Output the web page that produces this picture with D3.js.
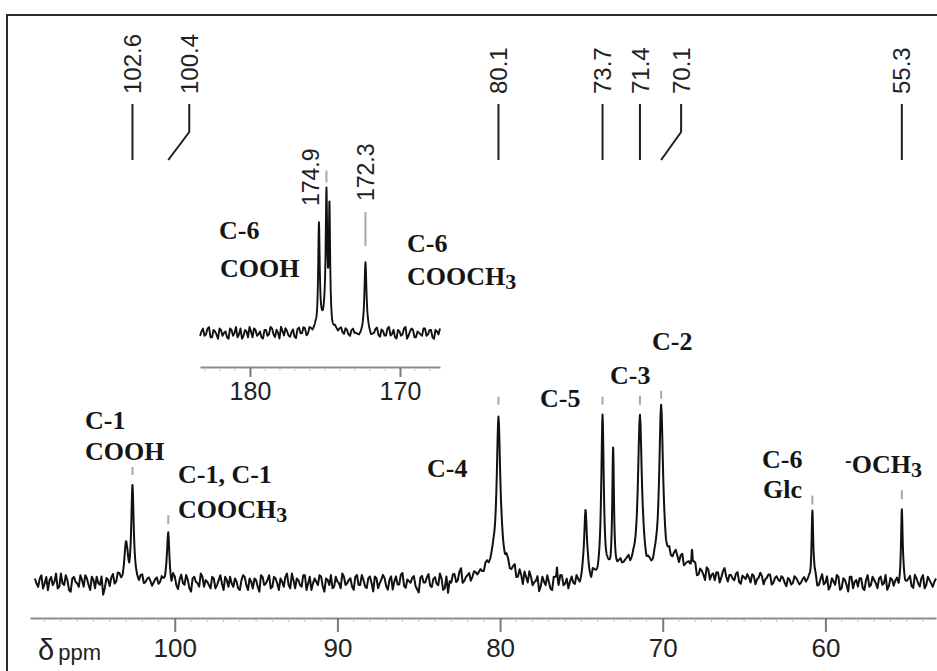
<!DOCTYPE html>
<html>
<head>
<meta charset="utf-8">
<script src="https://cdn.jsdelivr.net/npm/d3@7"></script>
<style>
  html, body { margin: 0; padding: 0; background: #fff; }
  svg { display: block; }
</style>
</head>
<body>
<svg id="chart" width="937" height="671"></svg>
<script>
// 13C NMR spectrum (108.6–53.2 ppm) with the carbonyl region (183–167 ppm) as an inset.

// ---- main spectrum: resolved signals (position ppm, height, width at half height ppm)
const mainPeakPpm    = [103.0, 102.6, 100.4, 80.1, 80.1, 76.5, 74.75, 73.7, 73.05, 72.3, 71.4, 70.1, 69.2, 68.2, 60.8, 55.3];
const mainPeakHeight = [21,    55,    27,    88,   12,   10,   41,    96,   72,    9,    95,   100,  12,   14,   44,   41];
const mainPeakWidth  = [0.24,  0.18,  0.18,  0.26, 2.0,  0.08, 0.20,  0.18, 0.12,  1.6,  0.28, 0.28, 1.8,  0.08, 0.12, 0.12];

// baseline noise of the main trace: samples every 0.2 ppm from 108.6 ppm,
// plus the samples lying halfway between them
const mainNoiseStart = 108.6;
const mainNoiseStep = 0.2;
const mainNoise = [
   2,-3, 4,-1,-5, 3, 0,-4, 5,-2, 1,-6, 3,-1, 4,-3, 2,-5, 1, 3,
  -2,-8, 2,-3, 4,-1, 3,-2, 1,-3, 2, 0,-2, 3,-1, 2,-3, 1,-2, 2,
  -1, 3,-4, 2,-5, 4,-2, 1,-6, 3,-1, 5,-3, 0,-4, 2,-2, 4,-5, 1,
   3,-3, 0,-5, 4,-2, 2,-4, 1,-6, 3,-1, 4,-3, 2,-5, 0, 3,-2, 5,
  -4, 1,-3, 4,-1,-5, 2,-2, 3,-6, 1, 4,-3, 0,-4, 3,-1, 2,-5, 4,
  -2, 1,-4, 3,-6, 2,-1, 4,-3, 1,-5, 3,-2, 5,-4, 0, 2,-3,-7, 3,
  -1, 4,-4, 2,-3, 1,-5,-8,-2, 3,-1, 6,-2, 1,-3, 2,-1, 1,-2, 2,
  -1, 2,-2, 1,-1, 2,-3, 1,-4, 2,-6,-1, 3,-5,-2,-8, 1,-4,-2,-7,
   0,-5, 2,-3,-6, 1,-4,-2,-3,-1, 2,-4, 1,-2, 2,-1, 1,-2, 1,-1,
   2,-1, 1,-2, 1, 0,-1, 2,-2, 1,-1, 2,-1, 1,-2, 3,-1, 4,-2, 5,
   1, 4,-1, 6, 0, 3,-2, 5, 2,-1, 4, 1, 7,-1, 3, 0, 5,-2, 2, 4,
  -1, 3, 1, 5,-2, 2, 4,-1, 3, 0, 2,-3, 1,-1, 2,-2, 1,-1, 1,-1,
   2,-3, 4,-1,-5, 2,-2, 3,-4, 1,-6, 3, 0,-3, 2,-5, 4,-2, 1,-4,
   3,-1,-5, 2,-3, 1,-2, 2,-1, 3,-4, 2,-3, 4,-2, 1,-3, 2
];
const mainNoiseMid = [
  -1, 2,-4, 3, 1,-2, 5,-3,-1, 4,-5, 2, 0,-3, 1, 4,-2, 3,-4,-1,
   3,-4, 1, 2,-2, 4,-1, 0, 2,-1, 1,-1, 2,-2, 1, 0,-1, 2,-1, 0,
   2,-2, 3,-3, 1,-1, 4,-4, 2, 0,-3, 3, 1,-2, 3,-4, 1,-1, 3,-3,
  -1, 2,-4, 1, 3,-5, 0, 2,-3, 4,-2, 1,-4, 3,-1, 2,-3, 5,-4, 1,
   2,-2, 4,-5, 3,-1, 0, 4,-3, 2,-2,-4, 3,-1, 5,-2, 1,-3, 3,-2,
   4,-3, 2,-1, 3,-4, 1, 2,-5, 3, 0,-2, 4,-3, 1,-1, 3,-5, 2,-1,
   2,-3, 1,-2, 4,-6, 2,-1, 3,-2, 4,-3, 0, 2,-1, 1, 0,-1, 2,-1,
   1,-1, 0, 2,-2, 1,-2, 3,-3,-1, 2,-4, 0,-3, 1,-5,-2, 2,-6, 1,
  -3, 2,-4, 0,-2,-3, 1,-5, 0, 1,-2, 2,-1, 0, 1,-1, 0, 1,-1, 1,
  -1, 0, 2,-1, 0, 1,-1, 0, 1,-1, 2, 0,-1, 1, 0,-1, 2, 1, 3,-1,
   3, 2, 5,-1, 4, 1, 6,-1, 3, 4,-2, 5, 2, 3, 1, 4,-1, 3, 1, 2,
   4,-2, 2, 3, 1, 4,-2, 2, 1, 3,-1, 2,-2, 3, 0,-1, 2, 0,-2, 2,
  -4, 1,-2, 3,-3, 0, 4,-5, 2,-2, 3,-4, 1, 2,-4, 1,-3, 3,-1, 2,
  -2, 4,-3, 1, 0,-4, 3,-2, 1,-3, 4,-1, 2,-4, 3,-1, 0
];

// ---- inset: carbonyl signals
const insetPeakPpm    = [175.4, 174.9, 174.7, 175.0, 172.3];
const insetPeakHeight = [70,    87,    76,    8,     48];
const insetPeakWidth  = [0.12,  0.12,  0.10,  0.8,   0.16];

// baseline noise of the inset trace: samples every 0.2 ppm from 183.33 ppm, plus midpoints
const insetNoiseStart = 183.33;
const insetNoiseStep = 0.2;
const insetNoise = [
  -2, 3,-1, 4,-3, 1,-4, 2, 0,-3, 3,-2, 4,-1,-4, 2,-3, 1, 3,-2,
   1,-4, 2,-1, 3,-3, 0, 4,-2, 1,-3, 2,-4, 3,-1, 2,-2, 1, 0,-1,
   1,-1, 0, 1,-2, 1,-1, 2,-2, 1,-3, 2,-1,-3,-1, 0, 1,-3,-1, 3,
  -3, 1,-2, 4,-1,-3, 2,-2, 3,-4, 1, 2,-3, 0,-2, 3,-1, 2,-4, 1,
   3
];
const insetNoiseMid = [
   1,-2, 3,-3, 2,-1, 3,-2, 1,-4, 2, 0,-3, 3,-2, 1, 4,-3, 2,-1,
  -3, 2,-2, 4,-1, 2,-4, 1, 3,-2, 0,-3, 2,-1, 3,-3, 2,-1, 1, 0,
   0, 1,-1, 2,-1, 0, 1,-1, 2,-2, 1,-1,-2,-2, 0, 1,-1,-2, 2,-2,
   2,-2, 3,-2, 2,-4, 1,-1, 4,-2, 3,-3, 1,-1, 3,-2, 2,-3, 2,-1
];

// ---- axes and annotations
const mainTicks = [100, 90, 80, 70, 60];
const insetTicks = [180, 170];
const shiftLabels = [102.6, 100.4, 80.1, 73.7, 71.4, 70.1, 55.3];
const insetShiftLabels = [174.9, 172.3];

const svg = d3.select("#chart");
svg.append("rect").attr("width", 937).attr("height", 671).attr("fill", "#fff");

// outer frame
svg.append("rect")
  .attr("x", 7).attr("y", 15).attr("width", 960).attr("height", 700)
  .attr("fill", "none").attr("stroke", "#2b2b2b").attr("stroke-width", 2);

const x = d3.scaleLinear().domain([108.9, 53.2]).range([30, 936]);
const y = d3.scaleLinear().domain([0, 100]).range([582, 417]);
const xi = d3.scaleLinear().domain([183.33, 167.33]).range([200, 440]);
const yi = d3.scaleLinear().domain([0, 100]).range([333, 187]);

// merge the sample grid and its midpoints into one sequence at half the step
function interleave(samples, mids) {
  const out = [];
  samples.forEach((v, i) => { out.push(v); if (i < mids.length) out.push(mids[i]); });
  return out;
}

// Lorentzian signals on top of the recorded baseline noise
function makeTrace(ppms, heights, widths, noise, start, step) {
  const peaks = ppms.map((p, i) => ({ p, h: heights[i], hw: widths[i] / 2 }));
  const end = start - (noise.length - 1) * step;
  const noiseAt = v => {
    const f = (start - v) / step;
    const i0 = Math.max(0, Math.min(noise.length - 2, Math.floor(f)));
    const t = f - i0;
    return noise[i0] * (1 - t) + noise[i0 + 1] * t;
  };
  const value = v => noiseAt(v) + d3.sum(peaks, k => k.h / (1 + ((v - k.p) / k.hw) ** 2));
  let xs = noise.map((_, i) => start - i * step);
  peaks.forEach(k => {
    if (k.hw < 0.25) {
      for (let d = -8 * k.hw; d <= 8 * k.hw + 1e-9; d += k.hw / 4) xs.push(k.p + d);
    }
    xs.push(k.p);
  });
  xs = xs.filter(v => v <= start && v >= end).sort((a, b) => b - a);
  xs = xs.filter((v, i) => i === 0 || Math.abs(v - xs[i - 1]) > 1e-6);
  return { points: xs.map(v => [v, value(v)]), value };
}

const main = makeTrace(mainPeakPpm, mainPeakHeight, mainPeakWidth,
  interleave(mainNoise, mainNoiseMid), mainNoiseStart, mainNoiseStep / 2);
const inset = makeTrace(insetPeakPpm, insetPeakHeight, insetPeakWidth,
  interleave(insetNoise, insetNoiseMid), insetNoiseStart, insetNoiseStep / 2);

svg.append("path")
  .attr("d", d3.line().x(d => x(d[0])).y(d => y(d[1]))(main.points))
  .attr("fill", "none").attr("stroke", "#111").attr("stroke-width", 2)
  .attr("stroke-linejoin", "round");

svg.append("path")
  .attr("d", d3.line().x(d => xi(d[0])).y(d => yi(d[1]))(inset.points))
  .attr("fill", "none").attr("stroke", "#111").attr("stroke-width", 1.9)
  .attr("stroke-linejoin", "round");

// peak-pick marks above the signals: [ppm, gap above top, length]
const mainMarks = [[102.6, 10, 8], [100.4, 8, 9], [80.1, 12, 8], [73.7, 10, 8], [71.4, 10, 9], [70.1, 6, 8], [60.8, 6, 9], [55.3, 10, 9]];
mainMarks.forEach(([p, gap, len]) => {
  const top = y(main.value(p));
  svg.append("line")
    .attr("x1", x(p)).attr("x2", x(p))
    .attr("y1", top - gap - len).attr("y2", top - gap)
    .attr("stroke", "#a8a8a8").attr("stroke-width", 2);
});
const insetMarks = [[174.9, 5, 12], [172.3, 16, 34]];
insetMarks.forEach(([p, gap, len]) => {
  const top = yi(inset.value(p));
  svg.append("line")
    .attr("x1", xi(p)).attr("x2", xi(p))
    .attr("y1", top - gap - len).attr("y2", top - gap)
    .attr("stroke", "#a8a8a8").attr("stroke-width", 2);
});

// main axis
const axisMain = svg.append("g").attr("transform", "translate(0,618)")
  .call(d3.axisBottom(x).tickValues(mainTicks).tickSize(14).tickSizeOuter(0).tickPadding(7).tickFormat(d3.format("d")));
axisMain.select(".domain").attr("stroke", "#8c8c8c").attr("stroke-width", 2);
axisMain.selectAll(".tick line").attr("stroke", "#7a7a7a").attr("stroke-width", 2);
axisMain.selectAll(".tick text")
  .attr("font-family", "'Liberation Sans', Arial, sans-serif").attr("font-size", 26).attr("fill", "#222");
svg.append("g").selectAll("line")
  .data(d3.range(54, 109).filter(v => !mainTicks.includes(v)))
  .join("line")
  .attr("x1", d => x(d)).attr("x2", d => x(d)).attr("y1", 619).attr("y2", 622)
  .attr("stroke", "#c4c4c4").attr("stroke-width", 1);

const unit = svg.append("text").attr("x", 38).attr("y", 660)
  .attr("font-family", "'Liberation Sans', Arial, sans-serif").attr("fill", "#222");
unit.append("tspan").attr("font-size", 29).text("δ");
unit.append("tspan").attr("font-size", 22).attr("dx", 4).text("ppm");

// inset axis
const axisInset = svg.append("g").attr("transform", "translate(0,367)")
  .call(d3.axisBottom(xi).tickValues(insetTicks).tickSize(10).tickSizeOuter(0).tickPadding(5).tickFormat(d3.format("d")));
axisInset.select(".domain").attr("stroke", "#8c8c8c").attr("stroke-width", 2);
axisInset.selectAll(".tick line").attr("stroke", "#7a7a7a").attr("stroke-width", 2);
axisInset.selectAll(".tick text")
  .attr("font-family", "'Liberation Sans', Arial, sans-serif").attr("font-size", 25).attr("fill", "#222");
svg.append("g").selectAll("line")
  .data(d3.range(168, 184).filter(v => !insetTicks.includes(v)))
  .join("line")
  .attr("x1", d => xi(d)).attr("x2", d => xi(d)).attr("y1", 368).attr("y2", 371)
  .attr("stroke", "#c4c4c4").attr("stroke-width", 1);

// chemical-shift labels with leader lines
const labelFont = "'Liberation Sans', Arial, sans-serif";
const leaderOffset = { 100.4: 21, 70.1: 20 };
shiftLabels.forEach(p => {
  const xb = x(p);
  const dx = leaderOffset[p] || 0;
  const xt = xb + dx;
  const path = dx ? `M${xt},104V132L${xb},160` : `M${xt},104V160`;
  svg.append("path").attr("d", path).attr("fill", "none").attr("stroke", "#1e1e1e").attr("stroke-width", 2);
  svg.append("text")
    .attr("transform", `translate(${xt + 0.358 * 24},94) rotate(-90)`)
    .attr("font-family", labelFont).attr("font-size", 24).attr("fill", "#222")
    .text(p.toFixed(1));
});
insetShiftLabels.forEach(p => {
  const xt = xi(p) - (p === 174.9 ? 16 : 0);
  svg.append("text")
    .attr("transform", `translate(${xt + 0.358 * 23},${p === 174.9 ? 206 : 201}) rotate(-90)`)
    .attr("font-family", labelFont).attr("font-size", 23).attr("fill", "#222")
    .text(p.toFixed(1));
});

// carbon assignments
const serif = "'Liberation Serif', 'Times New Roman', serif";
function assign(tx, ty, text, sub) {
  const t = svg.append("text").attr("x", tx).attr("y", ty)
    .attr("font-family", serif).attr("font-weight", "bold").attr("font-size", 26).attr("fill", "#151515");
  if (text.startsWith("-")) {
    t.append("tspan").attr("font-size", 20).attr("dy", -6).text("-");
    t.append("tspan").attr("dy", 6).text(text.slice(1));
  } else {
    t.append("tspan").text(text);
  }
  if (sub) t.append("tspan").attr("font-size", 22).attr("dy", 4).text(sub);
}
assign(85, 429, "C-1");
assign(85, 460, "COOH");
assign(178, 483, "C-1, C-1");
assign(178, 518, "COOCH", "3");
assign(427, 477, "C-4");
assign(540, 407, "C-5");
assign(610, 384, "C-3");
assign(652, 350, "C-2");
assign(762, 468, "C-6");
assign(763, 498, "Glc");
assign(845, 473, "-OCH", "3");
assign(219, 239, "C-6");
assign(220, 277, "COOH");
assign(407, 252, "C-6");
assign(407, 285, "COOCH", "3");
</script>
</body>
</html>
